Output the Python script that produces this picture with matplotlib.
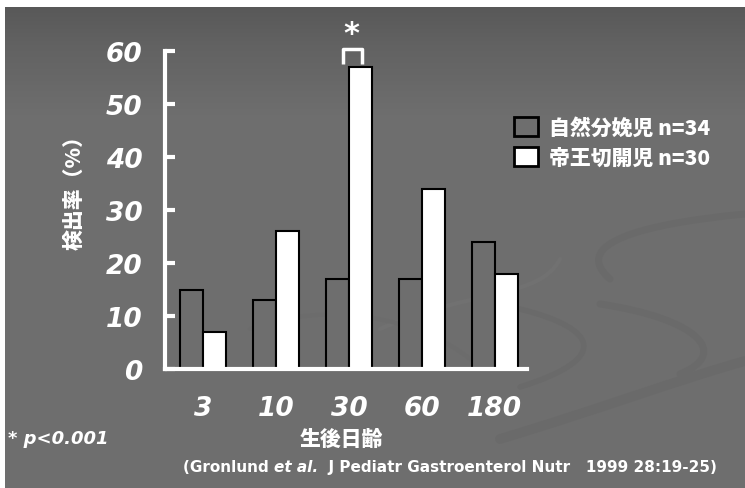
import numpy as np
import matplotlib
matplotlib.use("Agg")
import matplotlib.pyplot as plt
from matplotlib.path import Path
from matplotlib.patches import PathPatch, Rectangle

# ---- data ----
categories = ["3", "10", "30", "60", "180"]
vaginal = [15, 13, 17, 17, 24]      # 自然分娩児 n=34
cesarean = [7, 26, 57, 34, 18]      # 帝王切開児 n=30
series_labels = ["自然分娩児 n=34", "帝王切開児 n=30"]
yticks = [0, 10, 20, 30, 40, 50, 60]

CJK = ["Noto Sans CJK JP", "DejaVu Sans"]
BG = "#6e6e6e"

fig = plt.figure(figsize=(7.45, 4.89), dpi=100)
fig.patch.set_facecolor("white")

# ---- slide background ----
bg = fig.add_axes([0, 0, 1, 1])
bg.set_xlim(0, 745)
bg.set_ylim(489, 0)
bg.axis("off")
bg.add_patch(Rectangle((5, 8), 740, 481, facecolor=BG, edgecolor="none",
                       zorder=0))
# darker top gradient
for r in range(0, 110, 2):
    v = np.interp(r, [0, 40, 110], [0x58, 0x62, 0x6e]) / 255.0
    bg.add_patch(Rectangle((5, 8 + r), 740, 2.2, facecolor=(v, v, v),
                           edgecolor="none", zorder=0.5))

def band(verts, lw, color="#6a6a6a"):
    codes = [Path.MOVETO] + [Path.CURVE4] * (len(verts) - 1)
    bg.add_patch(PathPatch(Path(verts, codes), fill=False, lw=lw,
                           edgecolor=color, capstyle="round", zorder=1))

band([(520, 310), (600, 330), (610, 360), (520, 388)], 4)
band([(745, 215), (640, 225), (570, 245), (610, 280)], 5)
band([(600, 305), (700, 320), (730, 355), (680, 375)], 5)
band([(500, 440), (600, 410), (680, 380), (745, 362)], 7)
band([(380, 330), (470, 290), (540, 300), (560, 260)], 3, "#717171")
band([(250, 330), (330, 300), (420, 320), (470, 360)], 3, "#6c6c6c")

# ---- chart ----
ax = fig.add_axes([165 / 745, 1 - 370 / 489, 362 / 745, 318 / 489])
ax.set_facecolor("none")
x = np.arange(len(categories))
w = 0.31
b1 = ax.bar(x - w / 2, vaginal, w, color=BG, edgecolor="black", lw=1.5,
            label=series_labels[0], zorder=2)
b2 = ax.bar(x + w / 2, cesarean, w, color="white", edgecolor="black", lw=1.5,
            label=series_labels[1], zorder=2)

ax.set_xlim(-0.52, 4.44)
ax.set_ylim(0, 60)
for s in ["top", "right"]:
    ax.spines[s].set_visible(False)
for s in ["left", "bottom"]:
    ax.spines[s].set_color("white")
    ax.spines[s].set_linewidth(3)
    ax.spines[s].set_capstyle("projecting")
    ax.spines[s].set_zorder(3)

ax.set_yticks(yticks)
ax.set_xticks(x)
ax.set_xticklabels(categories)
ax.tick_params(axis="y", direction="in", length=7, width=3, color="white",
               pad=16, labelsize=19, labelcolor="white")
ax.tick_params(axis="x", length=0, pad=19, labelsize=19, labelcolor="white")
for lab in ax.get_xticklabels() + ax.get_yticklabels():
    lab.set_fontweight("bold")
    lab.set_fontstyle("italic")

# y label
fig.text(74 / 745, 1 - 188 / 489, "検出率（%）", rotation=90, ha="center",
         va="center", color="white", fontsize=15, fontweight="heavy",
         family=CJK)
# x label
fig.text(341 / 745, 1 - 440 / 489, "生後日齢", ha="center", va="center",
         color="white", fontsize=15, fontweight="heavy", family=CJK)

# significance bracket
ax.plot([1.92, 1.92, 2.18, 2.18], [57.6, 60.4, 60.4, 57.6], color="white",
        lw=2.5, clip_on=False, zorder=4, solid_capstyle="butt")
ax.text(2.04, 63.3, "*", ha="center", va="center", color="white",
        fontsize=22, fontweight="bold", clip_on=False)

# legend
leg = ax.legend(handles=[b1, b2], loc="upper left",
                bbox_to_anchor=(514 / 745, 1 - 118 / 489),
                bbox_transform=fig.transFigure, frameon=False,
                handlelength=1.15, handleheight=1.0, handletextpad=0.55,
                labelspacing=0.45, borderpad=0, borderaxespad=0,
                prop={"family": CJK, "weight": "heavy", "size": 15})
for t in leg.get_texts():
    t.set_color("white")
for h in leg.legend_handles:
    h.set_linewidth(2)

# footnotes
fig.text(8 / 745, 1 - 439 / 489, "* p<0.001", ha="left", va="center",
         color="white", fontsize=13, fontweight="bold", fontstyle="italic")

FS = 11
t1 = fig.text(183 / 745, 1 - 468 / 489, "(Gronlund ", ha="left",
              va="center", color="white", fontsize=FS, fontweight="bold")
t2 = ax.annotate("et al.", xy=(1, 0.5), xycoords=t1, va="center",
                 ha="left", color="white", fontsize=FS, fontweight="bold",
                 fontstyle="italic", annotation_clip=False)
t3 = ax.annotate("  J Pediatr Gastroenterol Nutr   1999 28:19-25)",
                 xy=(1, 0.5), xycoords=t2, va="center", ha="left",
                 color="white", fontsize=FS, fontweight="bold",
                 annotation_clip=False)

fig.savefig("out.png", dpi=100, facecolor=fig.get_facecolor())
